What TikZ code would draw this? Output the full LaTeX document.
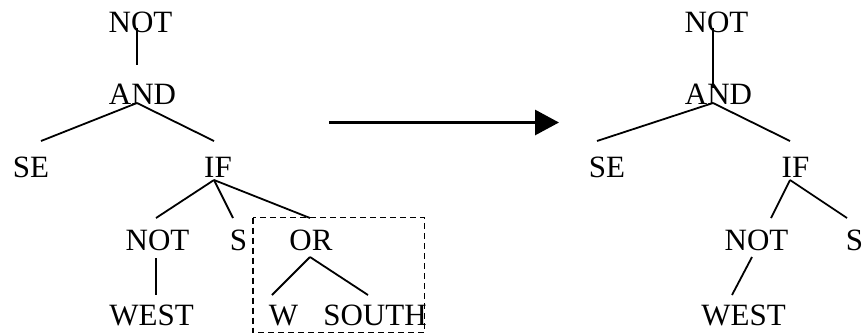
\documentclass[tikz,border=0pt]{standalone}
\usepackage{fontspec}
\setmainfont{Liberation Serif}
\usetikzlibrary{arrows.meta}
\begin{document}
\begin{tikzpicture}[x=1pt,y=-1pt,
  lbl/.style={anchor=base,inner sep=0pt,font=\fontsize{31}{31}\selectfont},
  edge/.style={line width=1.8pt},
  group/.style={dash pattern=on 6pt off 4pt,line width=1.3pt}]
\useasboundingbox (0,0) rectangle (865,333);

% left tree: labels
\node[lbl] (lnot)  at (140.5,32)  {NOT};
\node[lbl] (land)  at (142.5,104) {AND};
\node[lbl] (lse)   at (31,177)    {SE};
\node[lbl] (lif)   at (218,177)   {IF};
\node[lbl] (lnot2) at (157.5,250) {NOT};
\node[lbl] (ls)    at (238.5,250) {S};
\node[lbl] (lor)   at (311,250)   {OR};
\node[lbl] (lwest) at (151.5,325) {WEST};
\node[lbl] (lw)    at (283.5,325) {W};
\node[lbl] (lsouth) at (375,325)  {SOUTH};

% left tree: branch points
\coordinate (lnot-d)  at (137,28);
\coordinate (land-u)  at (137,65);
\coordinate (land-d)  at (137,103);
\coordinate (lse-u)   at (41,141);
\coordinate (lif-u)   at (214,141);
\coordinate (lif-d)   at (214,180);
\coordinate (lnot2-u) at (156,218);
\coordinate (ls-u)    at (233,218);
\coordinate (lor-u)   at (310,218);
\coordinate (lnot2-d) at (156,258);
\coordinate (lwest-u) at (156,295);
\coordinate (lor-d)   at (310,257);
\coordinate (lw-u)    at (272,295);
\coordinate (lsouth-u) at (368,295);

\draw[edge] (lnot-d) -- (land-u);
\draw[edge] (land-d) -- (lse-u);
\draw[edge] (land-d) -- (lif-u);
\draw[edge] (lif-d) -- (lnot2-u);
\draw[edge] (lif-d) -- (ls-u);
\draw[edge] (lif-d) -- (lor-u);
\draw[edge] (lnot2-d) -- (lwest-u);
\draw[edge] (lor-d) -- (lw-u);
\draw[edge] (lor-d) -- (lsouth-u);

% dashed frame round the OR subtree
\coordinate (box-nw) at (253,217.5);
\coordinate (box-se) at (424.5,332.3);
\draw[group] (box-nw) rectangle (box-se);

% transformation arrow
\coordinate (arr-s) at (329,122.5);
\coordinate (arr-e) at (559,122.5);
\draw[line width=3pt,-{Triangle[length=24pt,width=25pt]}] (arr-s) -- (arr-e);

% right tree: labels
\node[lbl] (rnot)  at (716.5,32)  {NOT};
\node[lbl] (rand)  at (718.5,104) {AND};
\node[lbl] (rse)   at (607,177)   {SE};
\node[lbl] (rif)   at (795.5,177) {IF};
\node[lbl] (rnot2) at (756.5,250) {NOT};
\node[lbl] (rs)    at (854.5,250) {S};
\node[lbl] (rwest) at (743.5,325) {WEST};

% right tree: branch points
\coordinate (rnot-d)  at (713,28);
\coordinate (rand-u)  at (713,88);
\coordinate (rand-d)  at (713,103);
\coordinate (rse-u)   at (597,141);
\coordinate (rif-u)   at (790,141);
\coordinate (rif-d)   at (790,180);
\coordinate (rnot2-u) at (771,218);
\coordinate (rs-u)    at (847,218);
\coordinate (rnot2-d) at (752,257);
\coordinate (rwest-u) at (732,295);

\draw[edge] (rnot-d) -- (rand-u);
\draw[edge] (rand-d) -- (rse-u);
\draw[edge] (rand-d) -- (rif-u);
\draw[edge] (rif-d) -- (rnot2-u);
\draw[edge] (rif-d) -- (rs-u);
\draw[edge] (rnot2-d) -- (rwest-u);
\end{tikzpicture}
\end{document}
